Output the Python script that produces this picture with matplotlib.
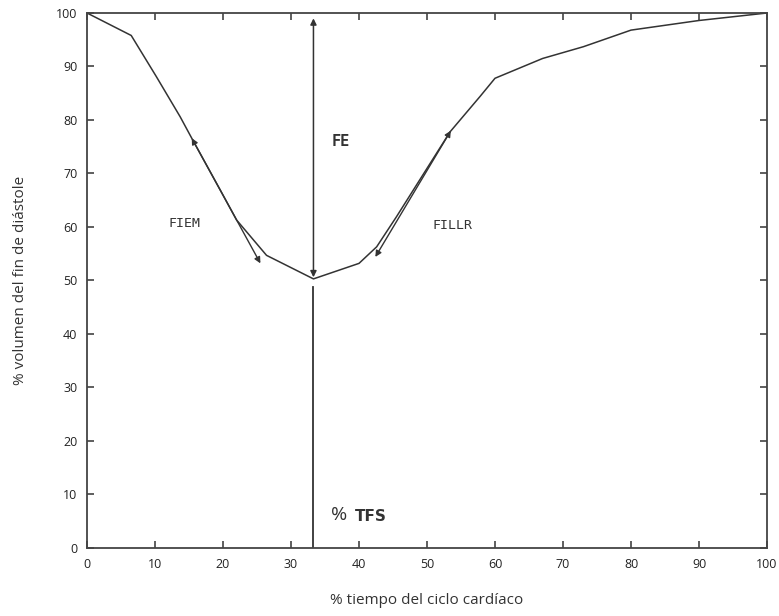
import matplotlib.pyplot as plt

# curva de volumen ventricular (lectura aproximada del gráfico)
tiempo = [0, 6.5, 10.2, 13.7, 15.4, 19.6, 22, 26.4, 33.3, 40, 42.6, 45.5, 53.4, 57.8, 60, 67, 73, 80, 90, 100]
volumen = [100, 95.8, 88.1, 80.6, 76.6, 66.9, 61.3, 54.7, 50.3, 53.2, 56.3, 61.9, 77.8, 84.4, 87.8, 91.5, 93.7, 96.8, 98.6, 100]

# tangentes y fracción de eyección
fiem_tangente = [(15.4, 76.6), (25.5, 53.2)]
fillr_tangente = [(42.4, 54.4), (53.5, 78.0)]
tfs = 33.3
fe_rango = [50.6, 99.0]
tfs_linea = [0, 48.8]

x_ticks = list(range(0, 101, 10))
y_ticks = list(range(0, 101, 10))

plt.rcParams['font.family'] = ['Open Sans', 'DejaVu Sans']
col = '#333333'

fig = plt.figure(figsize=(7.79, 6.16), dpi=100)
ax = fig.add_axes([0.1117, 0.1104, 0.8729, 0.8685])

ax.plot(tiempo, volumen, color=col, linewidth=1.1)

# FE: flecha vertical doble
ax.annotate('', xy=(tfs, fe_rango[1]), xytext=(tfs, fe_rango[0]),
            arrowprops=dict(arrowstyle='<|-|>', color=col, lw=1.1,
                            mutation_scale=9, shrinkA=0, shrinkB=0))
ax.plot([tfs, tfs], tfs_linea, color=col, linewidth=1.3)

# tangentes FIEM y FILLR
for (p0, p1) in (fiem_tangente, fillr_tangente):
    ax.annotate('', xy=p1, xytext=p0,
                arrowprops=dict(arrowstyle='<|-|>', color=col, lw=1.0,
                                mutation_scale=9, shrinkA=0, shrinkB=0))

ax.text(35.9, 75.9, 'FE', family='DejaVu Sans Mono', fontweight='bold',
        fontsize=11, color=col, ha='left', va='center')
ax.text(14.3, 60.6, 'FIEM', family='DejaVu Sans Mono', fontsize=9.5,
        color=col, ha='center', va='center')
ax.text(53.7, 60.2, 'FILLR', family='DejaVu Sans Mono', fontsize=9.5,
        color=col, ha='center', va='center')
ax.text(35.9, 6.2, '%', fontsize=14, color=col, ha='left', va='center')
ax.text(39.4, 5.9, 'TFS', family='DejaVu Sans', fontweight='bold',
        fontsize=11, color=col, ha='left', va='center')

ax.set_xlim(0, 100)
ax.set_ylim(0, 100)
ax.set_xticks(x_ticks)
ax.set_yticks(y_ticks)
ax.tick_params(direction='in', length=5, width=1.1, color=col, labelsize=9,
               labelcolor='#222222', top=True, right=True, pad=7)
for s in ax.spines.values():
    s.set_color('#444444')
    s.set_linewidth(1.3)

ax.set_xlabel('% tiempo del ciclo cardíaco', fontsize=11, color='#333333', labelpad=16)
ax.set_ylabel('% volumen del fin de diástole', fontsize=11, color='#333333', labelpad=20)

fig.savefig('out.png', dpi=100)
